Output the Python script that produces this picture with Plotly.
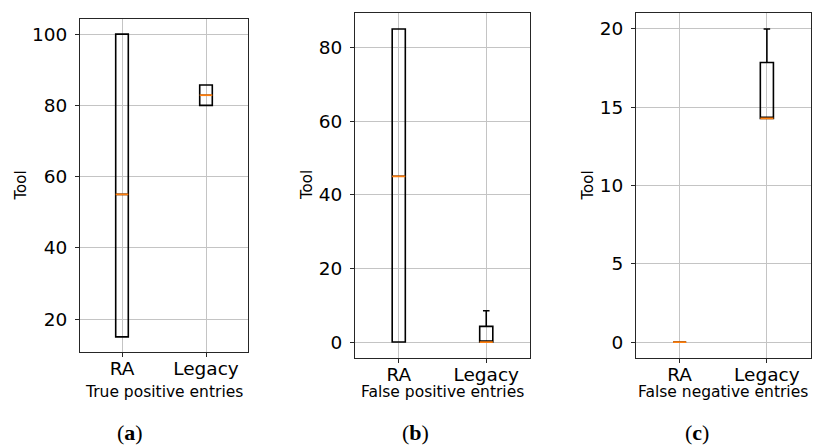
import plotly.graph_objects as go

# ---- data ----
categories = ["RA", "Legacy"]
positions = [1, 2]

tp_q1 = [15, 80]
tp_median = [55, 82.86]
tp_q3 = [100, 85.71]
tp_low = [15, 80]
tp_high = [100, 85.71]

fp_q1 = [0, 0]
fp_median = [45, 0]
fp_q3 = [85, 4.25]
fp_low = [0, 0]
fp_high = [85, 8.5]

fn_q1 = [0, 14.29]
fn_median = [0, 14.29]
fn_q3 = [0, 17.86]
fn_low = [0, 14.29]
fn_high = [0, 20]

panel_titles = ["True positive entries", "False positive entries", "False negative entries"]
panel_letters = ["a", "b", "c"]
y_dticks = [20, 20, 5]
y_title = "Tool"

panels = [
    (tp_q1, tp_median, tp_q3, tp_low, tp_high),
    (fp_q1, fp_median, fp_q3, fp_low, fp_high),
    (fn_q1, fn_median, fn_q3, fn_low, fn_high),
]

# ---- layout geometry (pixels, in the 813x447 window) ----
W, H = 813, 447
x_dom_px = [(80, 248), (355, 530), (636, 810.5)]
y_dom_px = [(19, 352), (13.3, 357.7), (13.3, 357.7)]
ytitle_x_px = [20, 306.5, 587]
xtitle_y_px = 392
letter_x_px = [129.5, 415, 697]
letter_y_px = 432

BOX_W = 0.15
FONT = "DejaVu Sans"
FRAME = "#262626"
GRID = "#c4c4c4"
MEDIAN_COLOR = "#ff7f0e"


def px_x(v):
    return v / W


def px_y(v):
    return 1 - v / H


fig = go.Figure()
annotations = []

for i, (q1, med, q3, lo, hi) in enumerate(panels):
    ax = "" if i == 0 else str(i + 1)
    xref, yref = "x" + ax, "y" + ax
    for p, a, b, c, d, e in zip(positions, q1, med, q3, lo, hi):
        fig.add_trace(go.Box(
            x=[p], q1=[a], median=[b], q3=[c], lowerfence=[d], upperfence=[e],
            width=BOX_W, whiskerwidth=0.5,
            line=dict(color="black", width=1.6),
            fillcolor="rgba(0,0,0,0)", boxpoints=False,
            xaxis=xref, yaxis=yref, showlegend=False, hoverinfo="skip",
        ))
    mx, my = [], []
    for p, m in zip(positions, med):
        mx += [p - BOX_W / 2, p + BOX_W / 2, None]
        my += [m, m, None]
    fig.add_trace(go.Scatter(
        x=mx, y=my, mode="lines", line=dict(color=MEDIAN_COLOR, width=1.8),
        xaxis=xref, yaxis=yref, showlegend=False, hoverinfo="skip",
    ))

    vmin = min(lo + q1)
    vmax = max(hi + q3)
    pad = 0.05 * (vmax - vmin)
    x0, x1 = x_dom_px[i]
    yt, yb = y_dom_px[i]
    axis_common = dict(
        showline=True, mirror=True, linecolor=FRAME, linewidth=1.2,
        showgrid=True, gridcolor=GRID, gridwidth=1, zeroline=False,
        ticks="outside", ticklen=4, tickcolor=FRAME, tickwidth=1.2,
        tickfont=dict(family=FONT, size=18.5, color="black"),
    )
    fig.layout["xaxis" + ax] = dict(
        domain=[px_x(x0), px_x(x1)], range=[0.5, 2.5],
        tickmode="array", tickvals=positions, ticktext=categories,
        ticklabelstandoff=-4, anchor=yref, **axis_common,
    )
    fig.layout["yaxis" + ax] = dict(
        domain=[px_y(yb), px_y(yt)], range=[vmin - pad, vmax + pad],
        dtick=y_dticks[i], tick0=0, ticklabelstandoff=4, anchor=xref, **axis_common,
    )
    annotations.append(dict(
        x=px_x(ytitle_x_px[i]), y=px_y((yt + yb) / 2), xref="paper", yref="paper",
        text=y_title, textangle=-90, showarrow=False,
        font=dict(family=FONT, size=15, color="black"),
        xanchor="center", yanchor="middle",
    ))
    annotations.append(dict(
        x=px_x((x0 + x1) / 2), y=px_y(xtitle_y_px), xref="paper", yref="paper",
        text=panel_titles[i], showarrow=False,
        font=dict(family=FONT, size=15.5, color="black"),
        xanchor="center", yanchor="middle",
    ))
    annotations.append(dict(
        x=px_x(letter_x_px[i]), y=px_y(letter_y_px), xref="paper", yref="paper",
        text="(<b>%s</b>)" % panel_letters[i], showarrow=False,
        font=dict(family="Liberation Serif", size=22, color="black"),
        xanchor="center", yanchor="middle",
    ))

fig.update_layout(
    width=W, height=H, margin=dict(l=0, r=0, t=0, b=0),
    paper_bgcolor="white", plot_bgcolor="white",
    boxmode="overlay", annotations=annotations,
)

fig.write_html(
    "out.html",
    config={"displayModeBar": False},
    post_script="document.body.style.margin='0';document.body.style.overflow='hidden';",
)
